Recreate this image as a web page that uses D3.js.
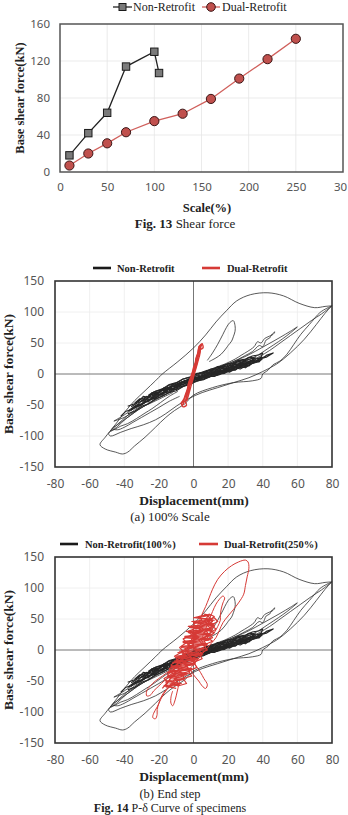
<!DOCTYPE html>
<html><head><meta charset="utf-8">
<script src="https://cdn.jsdelivr.net/npm/d3@7"></script>
<style>
body{margin:0;background:#fff;}
svg{display:block;}
</style></head>
<body>
<svg id="c" width="348" height="815"></svg>
<script>
// ---------- Fig. 13 data ----------
const scaleNon = [10, 30, 50, 70, 100, 105];
const forceNon = [18, 42, 64, 114, 130, 107];
const scaleDual = [10, 30, 50, 70, 100, 130, 160, 190, 220, 250];
const forceDual = [7, 20, 31, 43, 55, 63, 79, 101, 122, 144];
const fig13XTicks = [0, 50, 100, 150, 200, 250, 300];
const fig13XTickLabels = ["0", "50", "100", "150", "200", "250", "30"];
const fig13YTicks = [0, 40, 80, 120, 160];

// ---------- Fig. 14 data (displacement mm, force kN) ----------
const dispTicks = [-80, -60, -40, -20, 0, 20, 40, 60, 80];
const forceTicks = [-150, -100, -50, 0, 50, 100, 150];

const nrOuter = [[80,110],[76,109],[70,107],[61,114],[52,126],[43,131],[33,128],[25,118],[19,102],[13,84],[7,63],[0,42],[-9,20],[-18,0],[-22,-11],[-28,-27],[-34,-43],[-39,-59],[-45,-81],[-51,-102],[-54,-114],[-51,-121],[-45,-126],[-41,-129],[-38,-126],[-34,-116],[-28,-102],[-22,-86],[-16,-70],[-11,-59],[-5,-48],[0,-34],[11,-22],[23,-14],[34,-11],[39,-7],[40,0],[43,6],[46,15],[50,21],[54,32],[58,48],[62,64],[67,80],[73,99],[77,106],[80,110]];
const nrLoop2 = [[80,110],[74,97],[68,86],[62,74],[56,62],[50,50],[44,38],[38,28],[31,18],[24,10],[17,3],[10,-4],[3,-11],[-4,-18],[-11,-26],[-18,-35],[-25,-46],[-32,-58],[-39,-72],[-44,-85],[-49,-96],[-48,-100],[-42,-94],[-36,-88],[-29,-82],[-22,-74],[-16,-64],[-10,-52],[-3,-40],[5,-30],[14,-22],[23,-14],[32,-6],[40,4],[48,16],[56,34],[64,56],[71,80],[76,98],[80,110]];
const nrLoop3 = [[-46,-76],[-40,-66],[-34,-55],[-27,-44],[-20,-33],[-13,-22],[-6,-12],[1,-3],[8,5],[15,12],[22,19],[29,27],[36,37],[43,48],[50,59],[56,69],[60,76],[58,71],[54,62],[49,52],[43,41],[37,30],[30,20],[23,12],[16,4],[9,-3],[2,-10],[-5,-18],[-12,-27],[-19,-37],[-26,-48],[-33,-59],[-40,-70],[-46,-76]];
const nrLoop4 = [[-36,-58],[-28,-46],[-20,-36],[-12,-24],[-4,-14],[4,-4],[12,6],[20,16],[26,24],[30,30],[34,36],[38,46],[40,44],[42,55],[44,58],[45,63],[47,68],[46,64],[43,60],[41,57],[39,50],[37,52],[35,44],[31,36],[28,31],[24,24],[18,16],[12,10],[6,3],[0,-5],[-8,-15],[-16,-27],[-24,-40],[-32,-52],[-36,-58]];
const nrSpike = [[8,22],[11,34],[14,48],[17,64],[19,75],[21,83],[23,86],[24,78],[24,69],[23,60],[22,53],[20,46],[19,42],[16,32],[13,26],[9,20]];
const nrLeftLoop = [[-20,-32],[-26,-42],[-31,-52],[-36,-62],[-41,-74],[-45,-84],[-48,-92],[-46,-90],[-42,-84],[-38,-80],[-33,-72],[-28,-63],[-24,-56],[-19,-46],[-14,-36],[-9,-28]];
const nrLeftLoop2 = [[-12,-30],[-18,-38],[-24,-46],[-30,-54],[-35,-64],[-40,-74],[-44,-82],[-47,-88],[-44,-90],[-40,-86],[-35,-78],[-30,-70],[-25,-62],[-20,-54],[-14,-44],[-8,-36]];
const nrCloudA = [[-34,-47],[-31,-40],[-28,-41],[-25,-33],[-22,-34],[-19,-26],[-16,-27],[-13,-19],[-10,-21],[-7,-13],[-4,-14],[-1,-7],[2,-9],[5,-2],[8,-3],[11,3],[14,1],[17,7],[20,5],[23,11],[26,9],[29,15],[32,13],[35,20],[38,22],[34,17],[31,19],[28,12],[25,14],[22,7],[19,9],[16,3],[13,5],[10,-2],[7,0],[4,-7],[1,-5],[-2,-12],[-5,-10],[-8,-18],[-11,-16],[-14,-24],[-17,-22],[-20,-31],[-23,-29],[-26,-38],[-29,-36],[-32,-45]];
const nrCloudB = [[-30,-44],[-27,-36],[-24,-38],[-21,-29],[-18,-31],[-15,-22],[-12,-24],[-9,-15],[-6,-18],[-3,-9],[0,-12],[3,-4],[6,-6],[9,1],[12,-2],[15,4],[18,2],[21,8],[24,6],[27,12],[30,10],[33,16],[30,13],[27,8],[24,10],[21,3],[18,5],[15,-1],[12,1],[9,-5],[6,-3],[3,-9],[0,-7],[-3,-14],[-6,-12],[-9,-20],[-12,-17],[-15,-26],[-18,-24],[-21,-33],[-24,-30],[-27,-40]];
const nrCloudC = [[-26,-34],[-22,-28],[-18,-24],[-14,-17],[-10,-14],[-6,-8],[-2,-5],[2,0],[6,3],[10,6],[14,10],[18,12],[22,16],[26,20],[30,22],[28,18],[24,15],[20,10],[16,8],[12,3],[8,1],[4,-4],[0,-6],[-4,-11],[-8,-14],[-12,-20],[-16,-23],[-20,-29],[-24,-33]];
const nrCloudD = [[-38,-60],[-34,-52],[-30,-49],[-26,-42],[-22,-39],[-18,-31],[-14,-29],[-10,-22],[-6,-20],[-2,-13],[2,-11],[6,-5],[10,-3],[14,2],[18,4],[22,9],[26,11],[30,16],[34,18],[38,24],[42,27],[46,34],[42,30],[38,20],[34,22],[30,13],[26,15],[22,6],[18,8],[14,-1],[10,1],[6,-8],[2,-6],[-2,-16],[-6,-14],[-10,-25],[-14,-23],[-18,-34],[-22,-32],[-26,-45],[-30,-43],[-34,-55]];
const nrCloudE = [[5,0],[9,6],[12,4],[15,10],[18,8],[21,14],[24,12],[27,18],[30,16],[33,22],[36,20],[39,27],[36,24],[33,18],[30,20],[27,14],[24,16],[21,10],[18,12],[15,6],[12,8],[9,2],[6,4]];
const nrCloudF = [[-38,-52],[-34,-48],[-30,-40],[-26,-36],[-22,-28],[-18,-25],[-14,-18],[-10,-15],[-6,-8],[-2,-5],[2,1],[6,2],[10,8],[14,10],[18,15],[22,17],[26,22],[30,24],[34,29],[38,31],[40,34],[38,20],[34,17],[30,12],[26,10],[22,5],[18,3],[14,-2],[10,-4],[6,-9],[2,-11],[-2,-17],[-6,-20],[-10,-27],[-14,-30],[-18,-36],[-22,-40],[-26,-48],[-30,-52],[-34,-60],[-38,-64]];
const nrCloudG = [[-36,-53],[-32,-46],[-28,-42],[-24,-35],[-20,-30],[-16,-24],[-12,-20],[-8,-14],[-4,-10],[0,-4],[4,-2],[8,3],[12,5],[16,10],[20,12],[24,17],[28,19],[32,24],[36,26],[34,22],[30,18],[26,13],[22,11],[18,6],[14,4],[10,-1],[6,-3],[2,-8],[-2,-11],[-6,-17],[-10,-21],[-14,-27],[-18,-31],[-22,-38],[-26,-42],[-30,-50],[-34,-54]];
const nrCloudH = [[-42,-68],[-39,-60],[-36,-58],[-33,-50],[-30,-48],[-27,-41],[-24,-40],[-21,-33],[-18,-32],[-15,-25],[-12,-25],[-9,-18],[-6,-17],[-3,-11],[0,-11],[3,-4],[6,-5],[9,1],[12,0],[15,6],[18,5],[21,11],[24,10],[27,16],[30,15],[33,21],[36,20],[39,26],[42,28]];
const nrCloudI = [[0,-2],[4,2],[8,6],[11,6],[14,12],[17,12],[20,17],[23,16],[26,22],[29,21],[32,27],[35,26],[33,20],[30,15],[27,12],[24,7],[21,6],[18,1],[15,0],[12,-4],[9,-4],[6,-8],[3,-9]];

const dr100A = [[-6,-50],[-5.5,-42],[-4.5,-34],[-3.5,-26],[-2.5,-18],[-1.5,-10],[-0.5,-2],[0.5,6],[1.5,14],[2,22],[2.5,30],[3.5,38],[4.5,46],[5,49],[4,47],[3,40],[2.5,32],[1.5,24],[1,16],[0,8],[-1,0],[-2,-8],[-3,-16],[-3.5,-24],[-4.5,-32],[-5.5,-40],[-7,-48],[-6,-50]];
const dr100B = [[-4,-44],[-3,-35],[-2.5,-30],[-1.5,-20],[-1,-15],[0,-5],[0.5,0],[1.5,10],[2,15],[3,25],[3.5,30],[4,40],[3,36],[2,28],[1.5,20],[0.5,12],[0,4],[-1,-4],[-1.5,-12],[-2.5,-20],[-3,-28],[-4,-36],[-4.5,-42]];
const dr100C = [[-5,-46],[-4,-40],[-4,-32],[-2.5,-24],[-2,-16],[-0.5,-8],[0,0],[1,8],[2,18],[2.5,26],[3.5,34],[4,42],[4,46],[3,42],[2.5,34],[1.5,26],[1,18],[0,10],[-0.5,2],[-1.5,-6],[-2.5,-14],[-3,-22],[-4,-30],[-5,-38]];
const dr100Top = [[3,44],[5,48],[5.5,42],[3.5,40],[3,44]];
const dr100Bot = [[-5,-44],[-4,-50],[-6,-53],[-7,-46],[-5,-44]];

const dr250Big = [[-5,-8],[-3,6],[-1,18],[1,30],[3,44],[5,58],[7,70],[9,84],[11,98],[14,114],[18,127],[22,136],[26,142],[30,145],[31.5,142],[32,132],[31,118],[30,104],[29,90],[26,76],[23,65],[20,55],[17,44],[15,32],[13,20],[10,10],[7,0],[4,-10],[1,-20],[-2,-30]];
const dr250Loop2 = [[5,20],[7,34],[9,48],[11,62],[13,74],[15,82],[17,87],[18,84],[17,76],[16,66],[15.5,56],[15.5,48],[14,38],[12,28],[9,18]];
const dr250Low = [[-6,-30],[-10,-44],[-14,-58],[-17,-70],[-19,-80],[-21,-92],[-23,-102],[-23.5,-109],[-22,-111],[-21,-104],[-21,-96],[-20,-86],[-19,-78],[-17,-68],[-14,-60],[-11,-50],[-8,-40]];
const dr250Left = [[-10,-26],[-14,-34],[-18,-42],[-22,-50],[-25,-58],[-27,-66],[-27,-74],[-25,-73],[-23,-66],[-20,-58],[-17,-50],[-13,-42],[-9,-34]];
const dr250Right = [[-2,-12],[1,-24],[4,-36],[6,-46],[8,-56],[7,-62],[5,-58],[3,-50],[0,-40],[-2,-30]];
const dr250Mid = [[-8,-50],[-9,-62],[-10,-74],[-11,-84],[-12,-90],[-13,-86],[-13,-76],[-12,-66]];
const dr250CloudA = [[-16,-58],[-13,-44],[-15,-40],[-11,-30],[-13,-24],[-9,-16],[-11,-10],[-6,-2],[-8,4],[-4,12],[-6,18],[-1,24],[-3,30],[2,36],[0,42],[5,48],[3,54],[8,56],[10,50],[7,44],[11,40],[8,32],[12,28],[8,20],[11,14],[6,8],[8,0],[3,-6],[5,-14],[0,-20],[2,-28],[-3,-34],[-1,-42],[-6,-46],[-4,-54],[-9,-58],[-12,-52]];
const dr250CloudB = [[-14,-48],[-10,-38],[-12,-32],[-7,-24],[-9,-18],[-4,-10],[-6,-4],[-1,4],[-3,10],[2,18],[0,24],[5,30],[3,36],[8,42],[6,48],[12,52],[14,46],[10,40],[13,34],[9,26],[11,20],[6,14],[8,8],[3,0],[5,-8],[0,-12],[1,-20],[-4,-26],[-2,-34],[-7,-38],[-5,-46],[-10,-50]];
const dr250CloudC = [[-18,-62],[-15,-52],[-17,-46],[-12,-38],[-14,-30],[-9,-24],[-10,-16],[-5,-10],[-7,-2],[-2,4],[-4,12],[1,18],[-1,26],[4,32],[2,38],[6,44],[9,58],[12,54],[9,46],[12,38],[7,32],[9,24],[4,18],[6,10],[1,4],[3,-4],[-2,-10],[0,-18],[-5,-22],[-3,-30],[-8,-34],[-6,-42],[-11,-46],[-9,-54],[-14,-58]];
const dr250CloudD = [[-12,-40],[-8,-30],[-10,-24],[-6,-16],[-8,-10],[-3,-4],[-5,2],[0,8],[-2,14],[3,20],[1,26],[6,32],[4,38],[9,44],[7,50],[11,46],[8,40],[10,34],[6,28],[8,22],[3,16],[5,10],[0,4],[2,-2],[-3,-8],[-1,-14],[-6,-20],[-4,-26],[-9,-32],[-7,-38]];
const dr250CloudE = [[-16,-60],[-8,-56],[-16,-52],[-6,-48],[-15,-44],[-4,-40],[-15,-36],[-2,-32],[-13,-28],[0,-24],[-12,-20],[2,-16],[-10,-12],[4,-8],[-9,-4],[6,0],[-7,4],[7,8],[-6,12],[9,16],[-5,20],[10,24],[-3,28],[11,32],[-2,36],[12,40],[0,44],[12,48],[2,52],[10,56],[6,58]];
const dr250CloudF = [[8,57],[0,52],[11,50],[-1,46],[12,42],[-3,38],[11,34],[-4,30],[10,26],[-5,22],[9,18],[-6,14],[8,10],[-7,6],[7,2],[-8,-2],[5,-6],[-10,-10],[3,-14],[-11,-18],[1,-22],[-13,-26],[-1,-30],[-14,-34],[-3,-38],[-15,-42],[-5,-46],[-16,-50],[-7,-54],[-17,-58],[-10,-62]];

const nrCurves = [nrOuter, nrLoop2, nrLoop3, nrLoop4, nrSpike, nrLeftLoop, nrLeftLoop2];
const nrCloud = [nrCloudA, nrCloudB, nrCloudC, nrCloudD, nrCloudE, nrCloudF, nrCloudG, nrCloudH, nrCloudI];
const dr100Curves = [dr100A, dr100B, dr100C, dr100Top, dr100Bot];
const dr250Curves = [dr250Big, dr250Loop2, dr250Low, dr250Left, dr250Right, dr250Mid];
const dr250Cloud = [dr250CloudA, dr250CloudB, dr250CloudC, dr250CloudD, dr250CloudE, dr250CloudF];

// ---------- drawing ----------
const svg = d3.select("#c");
const SERIF = "'Liberation Serif','Times New Roman',serif";
const SANS = "'Noto Sans','Open Sans',sans-serif";
const BLACK = "#2e2e2e", RED = "#d63a36";

// ===== Fig. 13 =====
(function(){
  const x = d3.scaleLinear().domain([0,300]).range([60,343]);
  const y = d3.scaleLinear().domain([0,160]).range([172,24]);
  const g = svg.append("g");
  g.selectAll(".gx").data(fig13XTicks.slice(1,-1)).join("line")
    .attr("x1",d=>x(d)).attr("x2",d=>x(d)).attr("y1",y(0)).attr("y2",y(160))
    .attr("stroke","#e6e6e6").attr("stroke-width",0.8);
  g.selectAll(".gy").data(fig13YTicks.slice(1,-1)).join("line")
    .attr("x1",x(0)).attr("x2",x(300)).attr("y1",d=>y(d)).attr("y2",d=>y(d))
    .attr("stroke","#e6e6e6").attr("stroke-width",0.8);
  g.append("rect").attr("x",x(0)).attr("y",y(160)).attr("width",x(300)-x(0)).attr("height",y(0)-y(160))
    .attr("fill","none").attr("stroke","#555").attr("stroke-width",1.5);

  const ax = g.append("g").attr("transform",`translate(0,${y(0)})`)
    .call(d3.axisBottom(x).tickValues(fig13XTicks).tickSize(0).tickPadding(11).tickFormat((d,i)=>fig13XTickLabels[i]));
  const ay = g.append("g").attr("transform",`translate(${x(0)},0)`)
    .call(d3.axisLeft(y).tickValues(fig13YTicks).tickSize(0).tickPadding(10).tickFormat(d=>String(d)));
  [ax,ay].forEach(a=>{a.select(".domain").remove();
    a.selectAll("text").attr("font-family",SANS).attr("font-size",11.5).attr("fill","#555");});
  ax.selectAll("text").filter((d,i)=>i===fig13XTicks.length-1).attr("dx",-3);

  const line = d3.line().x(d=>x(d[0])).y(d=>y(d[1]));
  const non = scaleNon.map((s,i)=>[s,forceNon[i]]);
  const dual = scaleDual.map((s,i)=>[s,forceDual[i]]);
  g.append("path").attr("d",line(non)).attr("fill","none").attr("stroke","#222").attr("stroke-width",1.3);
  g.append("path").attr("d",line(dual)).attr("fill","none").attr("stroke","#d0605c").attr("stroke-width",1.3);
  g.selectAll(".sq").data(non).join("rect")
    .attr("x",d=>x(d[0])-3.7).attr("y",d=>y(d[1])-3.7).attr("width",7.4).attr("height",7.4)
    .attr("fill","#7a7a7a").attr("stroke","#1a1a1a").attr("stroke-width",1);
  g.selectAll(".ci").data(dual).join("circle")
    .attr("cx",d=>x(d[0])).attr("cy",d=>y(d[1])).attr("r",4.6)
    .attr("fill","#c0504d").attr("stroke","#3a1515").attr("stroke-width",1);

  // legend
  g.append("line").attr("x1",113).attr("x2",132).attr("y1",7).attr("y2",7).attr("stroke","#222").attr("stroke-width",1.3);
  g.append("rect").attr("x",122.5-3.5).attr("y",3.5).attr("width",7).attr("height",7).attr("fill","#7a7a7a").attr("stroke","#1a1a1a");
  g.append("text").attr("x",133).attr("y",11).text("Non-Retrofit").attr("font-family",SERIF).attr("font-size",12).attr("fill","#222");
  g.append("line").attr("x1",202).attr("x2",220).attr("y1",7).attr("y2",7).attr("stroke","#d0605c").attr("stroke-width",1.3);
  g.append("circle").attr("cx",211).attr("cy",7).attr("r",4.3).attr("fill","#c0504d").attr("stroke","#3a1515");
  g.append("text").attr("x",222).attr("y",11).text("Dual-Retrofit").attr("font-family",SERIF).attr("font-size",12).attr("fill","#222");

  g.append("text").attr("transform","translate(24,98) rotate(-90)").attr("text-anchor","middle")
    .text("Base shear force(kN)").attr("font-family",SERIF).attr("font-weight","bold").attr("font-size",12.5).attr("fill","#222");
  g.append("text").attr("x",207).attr("y",212).attr("text-anchor","middle")
    .text("Scale(%)").attr("font-family",SERIF).attr("font-weight","bold").attr("font-size",12.5).attr("fill","#222");
  const cap = g.append("text").attr("x",185).attr("y",228).attr("text-anchor","middle")
    .attr("font-family",SERIF).attr("font-size",13).attr("fill","#222");
  cap.append("tspan").attr("font-weight","bold").text("Fig. 13");
  cap.append("tspan").text(" Shear force");
})();

// ===== Fig. 14 panels =====
function panel(top, bottom, legendY, legend, redCurves, redCloud, redWidth){
  const x = d3.scaleLinear().domain([-80,80]).range([55,332]);
  const y = d3.scaleLinear().domain([-150,150]).range([bottom,top]);
  const g = svg.append("g");
  g.selectAll(".gx").data(dispTicks.filter(d=>d!==0 && Math.abs(d)!==80)).join("line")
    .attr("x1",d=>x(d)).attr("x2",d=>x(d)).attr("y1",y(-150)).attr("y2",y(150))
    .attr("stroke","#ececec").attr("stroke-width",0.8);
  g.selectAll(".gy").data(forceTicks.filter(d=>d!==0 && Math.abs(d)!==150)).join("line")
    .attr("x1",x(-80)).attr("x2",x(80)).attr("y1",d=>y(d)).attr("y2",d=>y(d))
    .attr("stroke","#ececec").attr("stroke-width",0.8);
  g.append("line").attr("x1",x(0)).attr("x2",x(0)).attr("y1",y(-150)).attr("y2",y(150)).attr("stroke","#777").attr("stroke-width",1);
  g.append("line").attr("x1",x(-80)).attr("x2",x(80)).attr("y1",y(0)).attr("y2",y(0)).attr("stroke","#777").attr("stroke-width",1);

  const smooth = d3.line().x(d=>x(d[0])).y(d=>y(d[1])).curve(d3.curveCatmullRom.alpha(0.5));
  const straight = d3.line().x(d=>x(d[0])).y(d=>y(d[1]));
  g.selectAll(".nr").data(nrCurves).join("path").attr("d",smooth)
    .attr("fill","none").attr("stroke",BLACK).attr("stroke-width",0.8);
  g.selectAll(".nrc").data(nrCloud).join("path").attr("d",straight)
    .attr("fill","none").attr("stroke","#262626").attr("stroke-width",1.15).attr("stroke-linejoin","round");
  g.selectAll(".dr").data(redCurves).join("path").attr("d",smooth)
    .attr("fill","none").attr("stroke",RED).attr("stroke-width",redWidth);
  g.selectAll(".drc").data(redCloud).join("path").attr("d",straight)
    .attr("fill","none").attr("stroke",RED).attr("stroke-width",1.2).attr("stroke-linejoin","round");

  g.append("rect").attr("x",x(-80)).attr("y",y(150)).attr("width",x(80)-x(-80)).attr("height",y(-150)-y(150))
    .attr("fill","none").attr("stroke","#333").attr("stroke-width",1.6);

  const ax = g.append("g").attr("transform",`translate(0,${y(-150)})`)
    .call(d3.axisBottom(x).tickValues(dispTicks).tickSize(0).tickPadding(12).tickFormat(d=>String(d)));
  const ay = g.append("g").attr("transform",`translate(${x(-80)},0)`)
    .call(d3.axisLeft(y).tickValues(forceTicks).tickSize(0).tickPadding(11).tickFormat(d=>String(d)));
  [ax,ay].forEach(a=>{a.select(".domain").remove();
    a.selectAll("text").attr("font-family",SANS).attr("font-size",12).attr("fill","#555");});

  // legend
  g.append("line").attr("x1",legend[0].x1).attr("x2",legend[0].x2).attr("y1",legendY).attr("y2",legendY).attr("stroke","#1a1a1a").attr("stroke-width",2.6);
  g.append("text").attr("x",legend[0].tx).attr("y",legendY+4).text(legend[0].label)
    .attr("font-family",SERIF).attr("font-weight","bold").attr("font-size",10.5).attr("fill","#222");
  g.append("line").attr("x1",legend[1].x1).attr("x2",legend[1].x2).attr("y1",legendY).attr("y2",legendY).attr("stroke",RED).attr("stroke-width",2.6);
  g.append("text").attr("x",legend[1].tx).attr("y",legendY+4).text(legend[1].label)
    .attr("font-family",SERIF).attr("font-weight","bold").attr("font-size",10.5).attr("fill","#222");

  g.append("text").attr("transform",`translate(13,${(top+bottom)/2}) rotate(-90)`).attr("text-anchor","middle")
    .text("Base shear force(kN)").attr("font-family",SERIF).attr("font-weight","bold").attr("font-size",13.5).attr("fill","#222");
  g.append("text").attr("x",194).attr("y",bottom+38).attr("text-anchor","middle")
    .text("Displacement(mm)").attr("font-family",SERIF).attr("font-weight","bold").attr("font-size",13.5).attr("fill","#222");
}

panel(281, 467, 268,
  [{x1:93,x2:111,tx:117,label:"Non-Retrofit"},{x1:202,x2:220,tx:227,label:"Dual-Retrofit"}],
  dr100Curves, [], 1.4);
svg.append("text").attr("x",170).attr("y",521).attr("text-anchor","middle")
  .text("(a) 100% Scale").attr("font-family",SERIF).attr("font-size",13).attr("fill","#222");

panel(557, 743, 544,
  [{x1:60,x2:78,tx:85,label:"Non-Retrofit(100%)"},{x1:199,x2:218,tx:224,label:"Dual-Retrofit(250%)"}],
  dr250Curves, dr250Cloud, 1.0);
svg.append("text").attr("x",170).attr("y",797.5).attr("text-anchor","middle")
  .text("(b) End step").attr("font-family",SERIF).attr("font-size",12.5).attr("fill","#222");
const cap14 = svg.append("text").attr("x",170).attr("y",812).attr("text-anchor","middle")
  .attr("font-family",SERIF).attr("font-size",12).attr("fill","#222");
cap14.append("tspan").attr("font-weight","bold").text("Fig. 14");
cap14.append("tspan").text(" P-δ Curve of specimens");
</script>
</body></html>
